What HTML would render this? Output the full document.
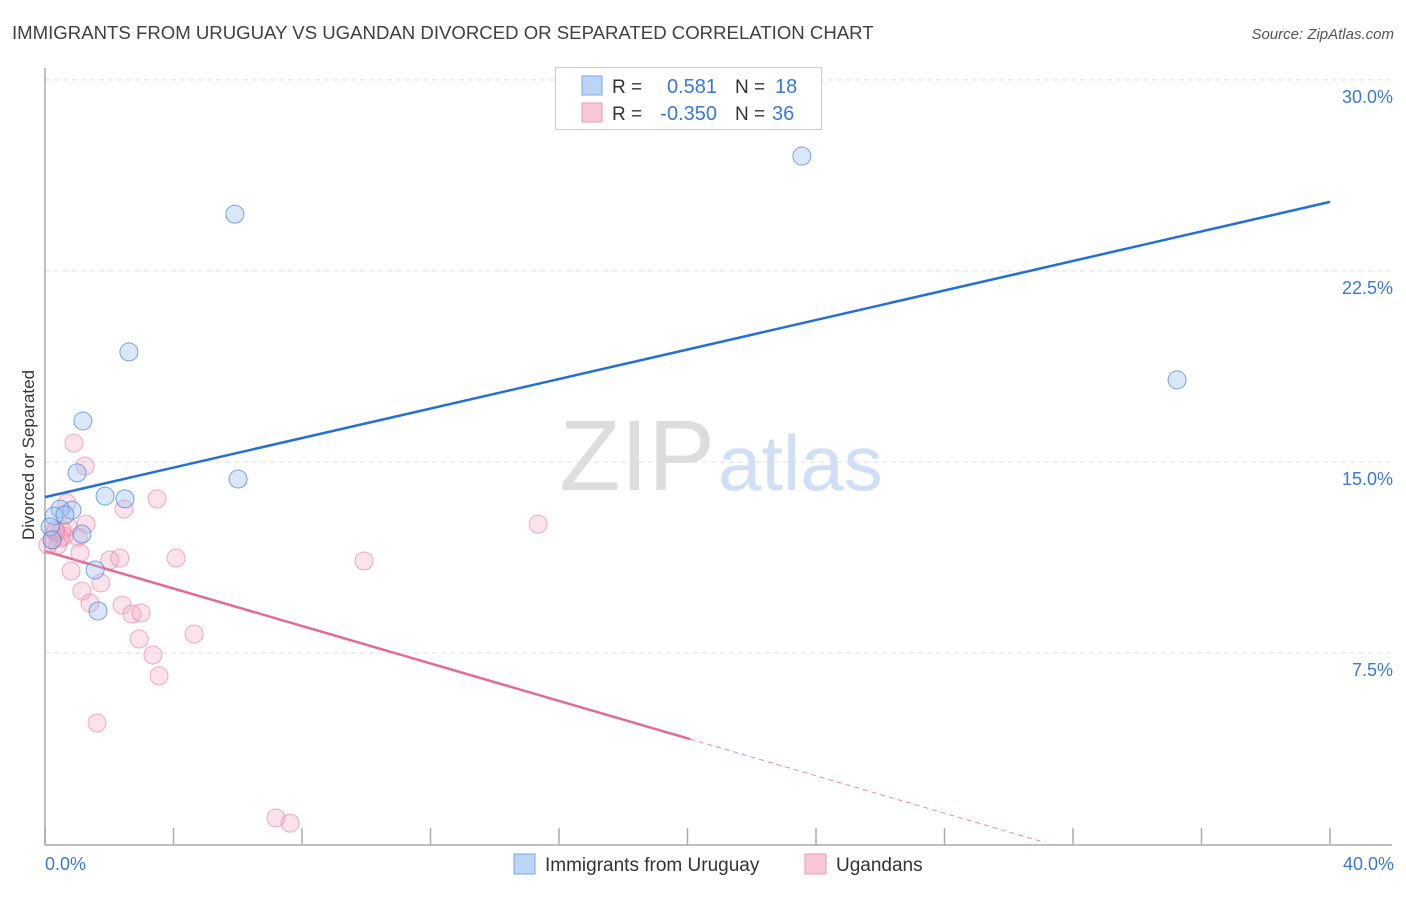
<!DOCTYPE html>
<html><head><meta charset="utf-8"><style>
body{margin:0;background:#fff;font-family:"Liberation Sans",sans-serif;}
svg text{font-family:"Liberation Sans",sans-serif;}
</style></head><body>
<svg id="chart" width="1406" height="892" viewBox="0 0 1406 892">
<text x="12" y="39" font-size="18.6" fill="#3c4043">IMMIGRANTS FROM URUGUAY VS UGANDAN DIVORCED OR SEPARATED CORRELATION CHART</text>
<text x="1394" y="39" font-size="15" fill="#555" font-style="italic" text-anchor="end">Source: ZipAtlas.com</text>
<g id="grid"></g>
<text x="715" y="490" font-size="100" fill="#ddd" font-family="Liberation Serif" text-anchor="end">ZIP</text>
<text x="718" y="490" font-size="78" fill="#cfe0f5">atlas</text>
<line x1="45" y1="68" x2="45" y2="845" stroke="#aaa" stroke-width="1.5"/>
<line x1="45" y1="845" x2="1392" y2="845" stroke="#aaa" stroke-width="1.5"/>
<g id="ticks"></g>
<text transform="translate(34,455) rotate(-90)" font-size="17" fill="#333" text-anchor="middle">Divorced or Separated</text>
<text x="45" y="870" font-size="18" fill="#3a78d8">0.0%</text>
<text x="1394" y="870" font-size="18" fill="#3a78d8" text-anchor="end">40.0%</text>
<g id="lines"></g>
<g id="pts"></g>
<g>
<rect x="555.5" y="67.5" width="266" height="62" fill="#fff" stroke="#ccc"/>
<rect x="582" y="76" width="20" height="19" fill="#bcd4f5" stroke="#7aa6e6"/>
<rect x="582" y="103" width="20" height="19" fill="#f9c8d6" stroke="#eb98b0"/>
<text x="612" y="93" font-size="19" fill="#333">R = </text><text x="717" y="93" font-size="20" fill="#3a78d8" text-anchor="end">0.581</text>
<text x="735" y="93" font-size="19" fill="#333">N = </text><text x="775" y="93" font-size="20" fill="#3a78d8">18</text>
<text x="612" y="120" font-size="19" fill="#333">R = </text><text x="717" y="120" font-size="20" fill="#3a78d8" text-anchor="end">-0.350</text>
<text x="735" y="120" font-size="19" fill="#333">N = </text><text x="772" y="120" font-size="20" fill="#3a78d8">36</text>
</g>
<g>
<rect x="514" y="854" width="21" height="20" fill="#bcd4f5" stroke="#7aa6e6"/>
<text x="545" y="871" font-size="19" fill="#333">Immigrants from Uruguay</text>
<rect x="805" y="854" width="21" height="20" fill="#f9c8d6" stroke="#eb98b0"/>
<text x="836" y="871" font-size="19" fill="#333">Ugandans</text>
</g>
</svg>
<script>
const yTicks=[7.5,15,22.5,30];
const yTickLabels=["7.5%","15.0%","22.5%","30.0%"];
const xTicks=[0,4,8,12,16,20,24,28,32,36,40];
const blueX=[23.56,5.91,2.61,1.18,1.00,6.01,1.87,2.49,0.84,0.47,0.28,0.62,1.15,0.16,0.22,1.56,1.65,35.24];
const blueY=[27.01,24.73,19.32,16.61,14.57,14.33,13.66,13.55,13.11,13.15,12.88,12.92,12.17,12.45,11.94,10.76,9.15,18.22];
const pinkX=[0.90,1.25,0.68,3.49,2.46,1.28,15.35,0.53,0.59,0.22,0.47,1.03,1.09,2.02,2.33,4.08,9.93,0.81,1.74,1.15,1.40,2.40,2.71,2.99,4.64,2.93,3.36,3.55,1.62,7.19,7.63,0.31,0.40,0.09,0.72,0.34];
const pinkY=[15.74,14.84,13.39,13.55,13.15,12.56,12.56,12.33,12.09,11.94,12.01,12.05,11.43,11.15,11.23,11.23,11.11,10.72,10.25,9.93,9.46,9.38,9.03,9.07,8.24,8.05,7.42,6.60,4.75,1.02,0.82,12.33,11.74,11.74,12.45,12.25];
const blueTrend=[[0,13.62],[40,25.21]];
const pinkTrendSolid=[[0,11.5],[20.08,4.12]];
const pinkTrendDash=[[20.08,4.12],[31.13,0.06]];
const NS="http://www.w3.org/2000/svg";
const sx=v=>45+v*32.125, sy=v=>844-v*25.47;
function mk(t,a,p){const e=document.createElementNS(NS,t);for(const k in a)e.setAttribute(k,a[k]);document.getElementById(p).appendChild(e);return e;}
yTicks.forEach((v,i)=>{
 const l=mk('line',{x1:45,x2:1392,y1:sy(v),y2:sy(v),stroke:'#ddd','stroke-dasharray':'5,4'},'grid');
 
 
 const t=mk('text',{x:1393,y:sy(v)+23,'font-size':18,fill:'#3a78d8','text-anchor':'end'},'grid');
 t.textContent=yTickLabels[i];
 
 
});
xTicks.forEach(v=>{
 const l=mk('line',{x1:sx(v),x2:sx(v),y1:828,y2:845,stroke:'#aaa','stroke-width':1.5},'ticks');
 
 
});
function seg(p,col,w,dash,name){
 const a={x1:sx(p[0][0]),y1:sy(p[0][1]),x2:sx(p[1][0]),y2:sy(p[1][1]),stroke:col,'stroke-width':w};
 if(dash)a['stroke-dasharray']=dash;
 const l=mk('line',a,'lines');
 
 
}
pinkX.forEach((x,i)=>{
 const c=mk('circle',{cx:sx(x),cy:sy(pinkY[i]),r:9,fill:'rgba(244,160,188,0.3)',stroke:'rgba(232,120,155,0.6)','stroke-width':1},'pts');
 
 
});
blueX.forEach((x,i)=>{
 const c=mk('circle',{cx:sx(x),cy:sy(blueY[i]),r:9,fill:'rgba(160,194,240,0.4)',stroke:'rgba(80,135,215,0.75)','stroke-width':1},'pts');
 
 
});
seg(blueTrend,'#2470d6',2.5,null,'uruguay-trend-line');
seg(pinkTrendSolid,'#e46a93',2.5,null,'ugandans-trend-line');
seg(pinkTrendDash,'#e88aa8',1,'5,4','ugandans-trend-extension');
</script>
</body></html>
